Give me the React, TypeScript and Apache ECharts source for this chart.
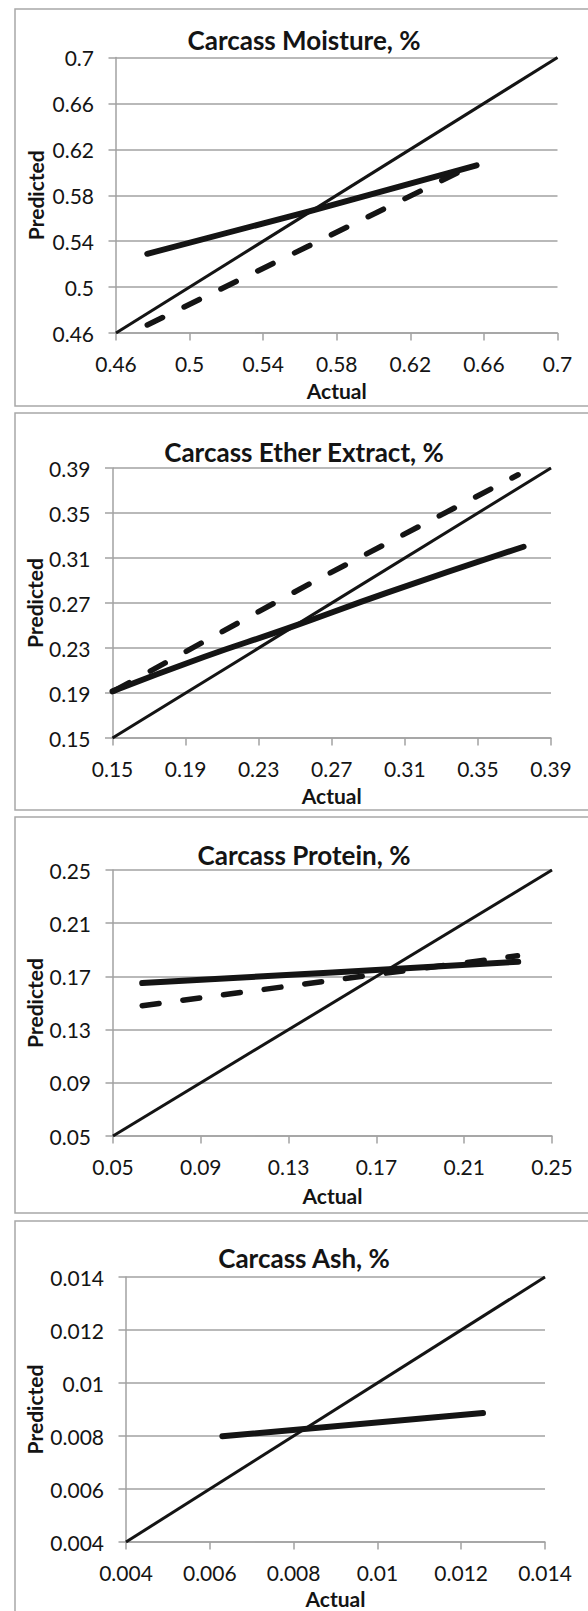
import React, { useEffect, useRef } from "react";
import * as echarts from "echarts";

// ---------- data ----------
const titles = [
  "Carcass Moisture, %",
  "Carcass Ether Extract, %",
  "Carcass Protein, %",
  "Carcass Ash, %",
];

// axis ticks (same for x and y in each panel)
const moistureTicks = [0.46, 0.5, 0.54, 0.58, 0.62, 0.66, 0.7];
const etherTicks = [0.15, 0.19, 0.23, 0.27, 0.31, 0.35, 0.39];
const proteinTicks = [0.05, 0.09, 0.13, 0.17, 0.21, 0.25];
const ashTicks = [0.004, 0.006, 0.008, 0.01, 0.012, 0.014];

// moisture
const moistureIdentity = [[0.46, 0.46], [0.7, 0.7]];
const moistureSolid = [[0.477, 0.529], [0.565, 0.566], [0.656, 0.606]];
const moistureDashed = [[0.477, 0.467], [0.565, 0.536], [0.65, 0.603]];

// ether extract
const etherIdentity = [[0.15, 0.15], [0.39, 0.39]];
const etherSolid = [[0.15, 0.1915], [0.2, 0.222], [0.245, 0.247], [0.3, 0.279], [0.375, 0.32]];
const etherDashed = [[0.151, 0.192], [0.26, 0.289], [0.372, 0.384]];

// protein
const proteinIdentity = [[0.05, 0.05], [0.25, 0.25]];
const proteinSolid = [[0.0633, 0.165], [0.15, 0.173], [0.2346, 0.181]];
const proteinDashed = [[0.0633, 0.148], [0.17, 0.1715], [0.2343, 0.1855]];

// ash
const ashIdentity = [[0.004, 0.004], [0.014, 0.014]];
const ashSolid = [[0.0063, 0.00799], [0.01252, 0.00887]];

const FONT = 'Lato, "Open Sans", sans-serif';
const GRAY = "#a2a2a2";
const INK = "#141414";

const panels = [
  { ticks: moistureTicks, identity: moistureIdentity, solid: moistureSolid, dashed: moistureDashed,
    box: [9, 397], grid: { left: 116, top: 57.5, width: 441.5, height: 275.5 }, titleY: 40, xGap: 46.5, yGap: 70 },
  { ticks: etherTicks, identity: etherIdentity, solid: etherSolid, dashed: etherDashed,
    box: [413, 397], grid: { left: 112.5, top: 468, width: 438.5, height: 270 }, titleY: 452, xGap: 46.5, yGap: 67.3 },
  { ticks: proteinTicks, identity: proteinIdentity, solid: proteinSolid, dashed: proteinDashed,
    box: [817, 396], grid: { left: 113, top: 870, width: 439, height: 266 }, titleY: 855, xGap: 49, yGap: 68 },
  { ticks: ashTicks, identity: ashIdentity, solid: ashSolid, dashed: null as number[][] | null,
    box: [1221, 420], grid: { left: 126, top: 1277, width: 419, height: 265 }, titleY: 1258, xGap: 45.5, yGap: 81 },
];

const fmt = (v: number) => String(parseFloat(v.toFixed(4)));

export default function App() {
  const ref = useRef<HTMLDivElement>(null);
  useEffect(() => {
    if (!ref.current) return;
    const chart = echarts.init(ref.current, null, { renderer: "svg" });

    const grid: any[] = [];
    const xAxis: any[] = [];
    const yAxis: any[] = [];
    const series: any[] = [];
    const graphic: any[] = [];

    panels.forEach((p, i) => {
      const t = p.ticks;
      const min = t[0];
      const max = t[t.length - 1];
      const interval = parseFloat((t[1] - t[0]).toFixed(6));
      grid.push({ ...p.grid, containLabel: false });
      const common = {
        type: "value",
        gridIndex: i,
        min,
        max,
        interval,
        axisLine: { show: true, onZero: false, lineStyle: { color: GRAY, width: 1.5 } },
        axisTick: { show: true, length: 7.5, lineStyle: { color: GRAY, width: 1.5 } },
        axisLabel: {
          margin: 20,
          color: INK,
          fontFamily: FONT,
          fontSize: 21,
          formatter: fmt,
          showMinLabel: true,
          showMaxLabel: true,
          hideOverlap: false,
        },
        nameLocation: "middle",
        nameMoveOverlap: false,
        nameTextStyle: { color: INK, fontFamily: FONT, fontSize: 21, fontWeight: "bold" },
      };
      xAxis.push({
        ...common,
        name: "Actual",
        nameGap: p.xGap,
        splitLine: { show: false },
      });
      yAxis.push({
        ...common,
        axisLabel: { ...common.axisLabel, margin: 22 },
        name: "Predicted",
        nameGap: p.yGap,
        nameRotate: 90,
        splitLine: { show: true, lineStyle: { color: GRAY, width: 1.5 } },
      });

      series.push({
        type: "line",
        xAxisIndex: i,
        yAxisIndex: i,
        data: p.identity,
        showSymbol: false,
        silent: true,
        lineStyle: { color: INK, width: 3 },
        z: 3,
      });
      series.push({
        type: "line",
        xAxisIndex: i,
        yAxisIndex: i,
        data: p.solid,
        showSymbol: false,
        smooth: true,
        silent: true,
        lineStyle: { color: INK, width: 6, cap: "round", join: "round" },
        z: 4,
      });
      if (p.dashed) {
        series.push({
          type: "line",
          xAxisIndex: i,
          yAxisIndex: i,
          data: p.dashed,
          showSymbol: false,
          silent: true,
          lineStyle: { color: INK, width: 5.5, type: [17, 24], cap: "round" },
          z: 4,
        });
      }

      graphic.push({
        type: "rect",
        shape: { x: 15, y: p.box[0], width: 600, height: p.box[1] },
        style: { fill: "none", stroke: "#a8a8a8", lineWidth: 1.5 },
        silent: true,
        z: -10,
      });
      graphic.push({
        type: "text",
        x: 304,
        y: p.titleY,
        style: {
          text: titles[i],
          fontFamily: FONT,
          fontSize: 26,
          fontWeight: "bold",
          fill: INK,
          align: "center",
          verticalAlign: "middle",
        },
        silent: true,
      });
    });

    chart.setOption({
      animation: false,
      backgroundColor: "#ffffff",
      grid,
      xAxis,
      yAxis,
      series,
      graphic,
    });
    return () => chart.dispose();
  }, []);

  return (
    <div
      ref={ref}
      style={{ position: "absolute", left: 0, top: 0, width: 588, height: 1611 }}
    />
  );
}
